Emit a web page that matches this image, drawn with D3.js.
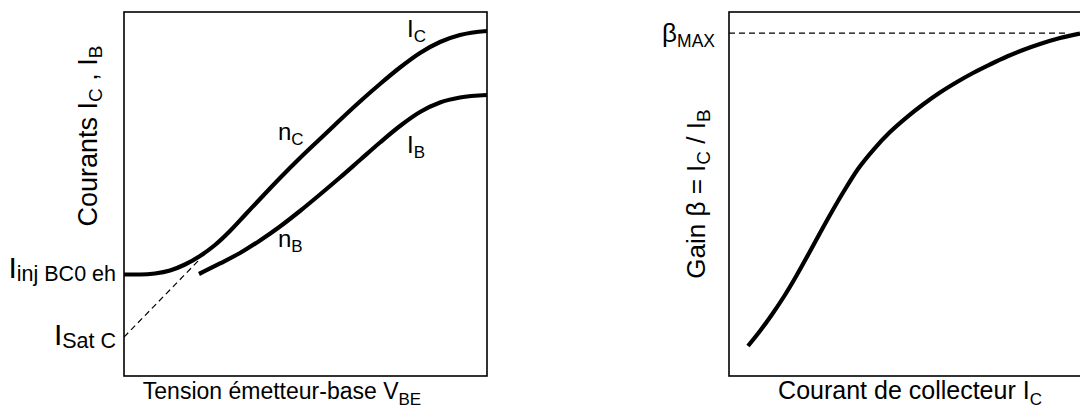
<!DOCTYPE html>
<html><head><meta charset="utf-8">
<script src="https://cdn.jsdelivr.net/npm/d3@7"></script>
<style>
html,body{margin:0;padding:0;background:#fff;}
svg{display:block;font-family:"Liberation Sans",Arial,sans-serif;}
</style></head>
<body>
<svg id="c" width="1080" height="412"></svg>
<script>
// ---- Left panel data (abstract units 0..100) ----
const icX = [0, 4.41, 8.54, 12.67, 16.80, 20.94, 25.07, 29.20, 33.33, 37.47, 42.98, 48.48, 53.99, 59.50, 65.01, 70.52, 76.03, 81.54, 87.05, 92.56, 100];
const icY = [27.88, 27.88, 28.16, 28.98, 30.63, 32.97, 35.99, 39.84, 44.23, 48.63, 54.40, 59.89, 65.11, 70.33, 75.41, 80.22, 84.75, 88.74, 91.76, 93.68, 94.78];
const ibX = [20.66, 26.45, 31.96, 37.47, 42.98, 48.48, 53.99, 59.50, 65.01, 70.52, 76.03, 81.54, 87.05, 92.56, 100];
const ibY = [28.02, 30.91, 33.79, 37.23, 41.07, 45.33, 49.86, 54.53, 59.34, 64.15, 68.68, 72.53, 75.14, 76.51, 77.20];
const satX = [0, 20.9];
const satY = [10.7, 32.1];
// ---- Right panel data ----
const betaX = [5.38, 8.78, 12.18, 15.58, 18.98, 22.38, 25.78, 29.18, 32.58, 36.54, 41.08, 45.61, 50.42, 54.96, 59.77, 64.59, 69.12, 73.94, 78.75, 83.29, 88.10, 93.77, 99.43];
const betaY = [8.24, 12.36, 16.90, 21.84, 27.34, 33.24, 39.29, 45.19, 50.82, 56.87, 62.36, 67.03, 71.15, 74.59, 77.88, 80.77, 83.24, 85.58, 87.77, 89.56, 91.21, 92.86, 94.09];
const betaMax = 94.2;

const svg = d3.select("#c");

// text with alternating normal / subscript parts
function rich(sel, parts) {
  let shift = 0;
  parts.forEach(p => {
    const ts = sel.append("tspan").text(p.t).attr("font-size", p.s);
    const target = p.d || 0;
    if (target !== shift) { ts.attr("dy", target - shift); shift = target; }
  });
}

// ===== Left panel =====
const L = {x0:124, x1:487, y0:12, y1:376};
const xL = d3.scaleLinear().domain([0,100]).range([L.x0, L.x1]);
const yL = d3.scaleLinear().domain([0,100]).range([L.y1, L.y0]);
const line = (xs, ys) => d3.line().x(d=>xs(d[0])).y(d=>ys(d[1])).curve(d3.curveMonotoneX);

svg.append("rect").attr("x",L.x0).attr("y",L.y0).attr("width",L.x1-L.x0).attr("height",L.y1-L.y0)
  .attr("fill","none").attr("stroke","#000").attr("stroke-width",1.6);

svg.append("path").datum(d3.zip(satX, satY)).attr("d", line(xL,yL))
  .attr("fill","none").attr("stroke","#000").attr("stroke-width",1.2).attr("stroke-dasharray","6,4");
svg.append("path").datum(d3.zip(icX, icY)).attr("d", line(xL,yL))
  .attr("fill","none").attr("stroke","#000").attr("stroke-width",4.2);
svg.append("path").datum(d3.zip(ibX, ibY)).attr("d", line(xL,yL))
  .attr("fill","none").attr("stroke","#000").attr("stroke-width",4.2);

let t = svg.append("text").attr("text-anchor","end").attr("x",116).attr("y",278);
rich(t,[{t:"I",s:30},{t:"inj BC0 eh",s:21.5,d:3}]);
t = svg.append("text").attr("text-anchor","end").attr("x",116).attr("y",345);
rich(t,[{t:"I",s:30},{t:"Sat C",s:21.5,d:3}]);

t = svg.append("text").attr("x",278).attr("y",140);
rich(t,[{t:"n",s:24},{t:"C",s:17,d:5}]);
t = svg.append("text").attr("x",278).attr("y",247);
rich(t,[{t:"n",s:24},{t:"B",s:17,d:5}]);
t = svg.append("text").attr("x",407).attr("y",37);
rich(t,[{t:"I",s:24},{t:"C",s:17,d:5}]);
t = svg.append("text").attr("x",407).attr("y",153);
rich(t,[{t:"I",s:24},{t:"B",s:17,d:5}]);

t = svg.append("text").attr("transform","translate(97,136) rotate(-90)").attr("text-anchor","middle");
rich(t,[{t:"Courants I",s:27},{t:"C",s:19,d:5},{t:" , I",s:27},{t:"B",s:19,d:5}]);

t = svg.append("text").attr("x",282).attr("y",399).attr("text-anchor","middle");
rich(t,[{t:"Tension émetteur-base V",s:23},{t:"BE",s:17,d:6}]);

// ===== Right panel =====
const R = {x0:729, x1:1082, y0:12, y1:376};
const xR = d3.scaleLinear().domain([0,100]).range([R.x0, R.x1]);
const yR = d3.scaleLinear().domain([0,100]).range([R.y1, R.y0]);

svg.append("rect").attr("x",R.x0).attr("y",R.y0).attr("width",R.x1-R.x0).attr("height",R.y1-R.y0)
  .attr("fill","none").attr("stroke","#000").attr("stroke-width",1.6);
svg.append("line").attr("x1",xR(0)).attr("x2",xR(96)).attr("y1",yR(betaMax)).attr("y2",yR(betaMax))
  .attr("stroke","#000").attr("stroke-width",1.2).attr("stroke-dasharray","6,4");
svg.append("path").datum(d3.zip(betaX, betaY)).attr("d", line(xR,yR))
  .attr("fill","none").attr("stroke","#000").attr("stroke-width",4.2);

t = svg.append("text").attr("text-anchor","end").attr("x",715).attr("y",42);
rich(t,[{t:"β",s:26},{t:"MAX",s:17.5,d:5}]);

t = svg.append("text").attr("transform","translate(705,194) rotate(-90)").attr("text-anchor","middle");
rich(t,[{t:"Gain β = I",s:26},{t:"C",s:19,d:5},{t:" / I",s:26},{t:"B",s:19,d:5}]);

t = svg.append("text").attr("x",910).attr("y",399).attr("text-anchor","middle");
rich(t,[{t:"Courant de collecteur I",s:25},{t:"C",s:17,d:6}]);
</script>
</body></html>
